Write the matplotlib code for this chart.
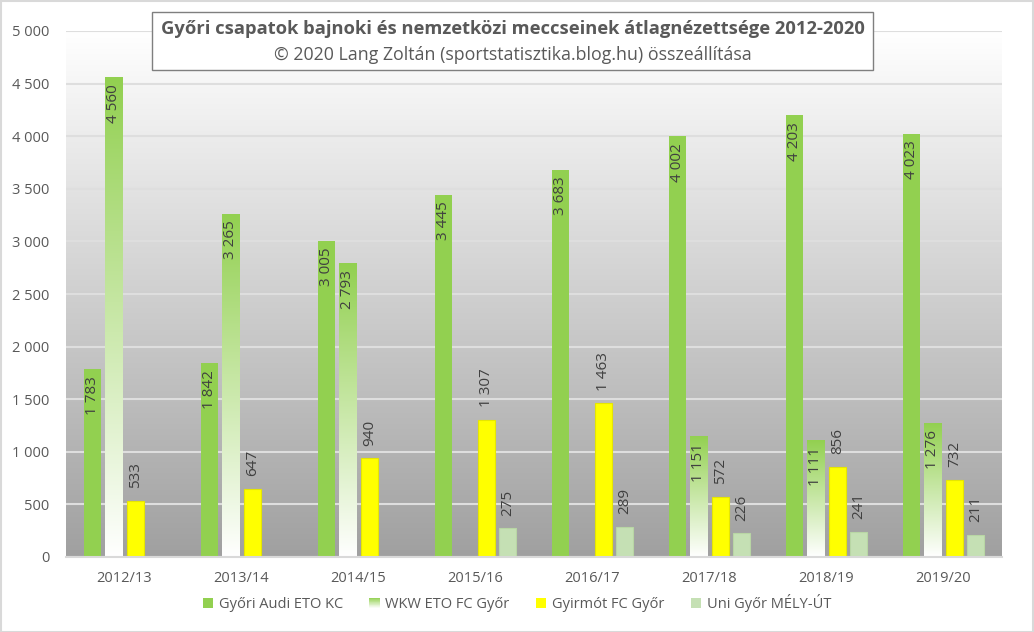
import numpy as np
import matplotlib
matplotlib.use('Agg')
import matplotlib.pyplot as plt
from matplotlib.patches import Rectangle
from matplotlib.colors import to_rgb
from matplotlib.legend_handler import HandlerBase

# ---------------- data ----------------
seasons = ['2012/13', '2013/14', '2014/15', '2015/16', '2016/17', '2017/18', '2018/19', '2019/20']
eto_kc = [1783, 1842, 3005, 3445, 3683, 4002, 4203, 4023]
wkw_eto = [4560, 3265, 2793, None, None, 1151, 1111, 1276]
gyirmot = [533, 647, 940, 1307, 1463, 572, 856, 732]
uni_gyor = [None, None, None, 275, 289, 226, 241, 211]
series_names = ['Győri Audi ETO KC', 'WKW ETO FC Győr', 'Gyirmót FC Győr', 'Uni Győr MÉLY-ÚT']
yticks = [0, 500, 1000, 1500, 2000, 2500, 3000, 3500, 4000, 4500, 5000]
title = 'Győri csapatok bajnoki és nemzetközi meccseinek átlagnézettsége 2012-2020'
subtitle = '© 2020 Lang Zoltán (sportstatisztika.blog.hu) összeállítása'

# ---------------- style ----------------
FONT = 'Open Sans'
plt.rcParams['font.family'] = [FONT, 'DejaVu Sans']
GREEN = '#92d050'
YELLOW = '#ffff00'
LIGHTGREEN = '#c5e0b4'
TXT = '#595959'
LBL = '#404040'

W, H = 1034, 632
fig = plt.figure(figsize=(W / 100, H / 100), dpi=100)
fig.patch.set_facecolor('white')
ax = fig.add_axes([66 / W, 1 - 557 / H, (1002 - 66) / W, (557 - 31) / H])
ax.patch.set_alpha(0)

def fmt(v):
    return f'{v:,}'.replace(',', ' ')

x = np.arange(len(seasons))
step = 0.184
bw = 0.146
offs = [-1.5 * step, -0.5 * step, 0.5 * step, 1.5 * step]

def vals(a):
    return np.array([np.nan if v is None else v for v in a], dtype=float)

# background gradient (white top -> gray bottom)
g = np.linspace(1.0, 0.0, 256).reshape(-1, 1)
top = np.array([1.0, 1.0, 1.0]); bot = np.array(to_rgb('#a0a0a0'))
bg = top * g[..., None] + bot * (1 - g[..., None])
ax.imshow(bg, extent=[0, 1, 0, 1], transform=ax.transAxes, aspect='auto', zorder=0,
          interpolation='bilinear')

# bars
b1 = ax.bar(x + offs[0], vals(eto_kc), bw, color=GREEN, zorder=2)
b2 = ax.bar(x + offs[1], vals(wkw_eto), bw, color='none', edgecolor='none', zorder=2)
b3 = ax.bar(x + offs[2], vals(gyirmot), bw, color=YELLOW, edgecolor='#e6e600', linewidth=0.8, zorder=2)
b4 = ax.bar(x + offs[3], vals(uni_gyor), bw, color=LIGHTGREEN, edgecolor='#b8d6a4', linewidth=0.8, zorder=2)

# gradient fill for WKW bars
gc = np.array(to_rgb(GREEN)); wc = np.array([1.0, 1.0, 1.0])
gg = np.linspace(1.0, 0.0, 256).reshape(-1, 1)
grad = gc * gg[..., None] + wc * (1 - gg[..., None])
for r in b2:
    h = r.get_height()
    if not np.isfinite(h):
        continue
    x0 = r.get_x()
    im = ax.imshow(grad, extent=[x0, x0 + r.get_width(), 0, h], aspect='auto',
                   zorder=2.1, interpolation='bilinear')
    im.set_clip_path(r)

# labels
for bars, data, inside in [(b1, eto_kc, True), (b2, wkw_eto, True), (b3, gyirmot, False), (b4, uni_gyor, False)]:
    for r, v in zip(bars, data):
        if v is None:
            continue
        cx = r.get_x() + r.get_width() / 2
        if inside:
            ax.annotate(fmt(v), (cx, v), xytext=(0, -5), textcoords='offset points',
                        rotation=90, ha='center', va='top', fontsize=11, color=LBL, zorder=5)
        else:
            ax.annotate(fmt(v), (cx, v), xytext=(0, 9), textcoords='offset points',
                        rotation=90, ha='center', va='bottom', fontsize=11, color=LBL, zorder=5)

ax.set_xlim(-0.5, len(seasons) - 0.5)
ax.set_ylim(0, 5000)
ax.set_yticks(yticks)
ax.set_yticklabels([fmt(v) for v in yticks])
ax.set_xticks(x)
ax.set_xticklabels(seasons)
ax.tick_params(axis='both', length=0, colors=TXT, labelsize=10.5)
ax.tick_params(axis='y', pad=12)
ax.tick_params(axis='x', pad=10)
ax.yaxis.grid(True, color='#dedede', linewidth=1.5, zorder=1)
ax.set_axisbelow(True)
for s in ['top', 'right', 'left']:
    ax.spines[s].set_visible(False)
ax.spines['bottom'].set_color('#d9d9d9')
ax.spines['bottom'].set_linewidth(1.5)
ax.spines['bottom'].set_zorder(3)

# legend
class GradHandler(HandlerBase):
    def create_artists(self, legend, orig_handle, xdescent, ydescent, width, height, fontsize, trans):
        arts = []
        n = 24
        for i in range(n):
            f = (i + 0.5) / n
            c = wc * (1 - f) + gc * f
            arts.append(Rectangle((-xdescent, -ydescent + height * i / n), width, height / n * 1.05,
                                  facecolor=c, edgecolor='none', transform=trans))
        return arts

h1 = Rectangle((0, 0), 1, 1, facecolor=GREEN)
h2 = Rectangle((0, 0), 1, 1, facecolor=GREEN)
h3 = Rectangle((0, 0), 1, 1, facecolor=YELLOW)
h4 = Rectangle((0, 0), 1, 1, facecolor=LIGHTGREEN)
leg = fig.legend([h1, h2, h3, h4], series_names, loc='center', bbox_to_anchor=(0.5, 1 - 603 / H),
                 ncol=4, frameon=False, fontsize=10.5, handlelength=0.7, handleheight=0.7,
                 handletextpad=0.4, columnspacing=1.8, handler_map={h2: GradHandler()})
for t in leg.get_texts():
    t.set_color(TXT)

# title box
fig.add_artist(Rectangle((152 / W, 1 - 70 / H), (873 - 152) / W, 58 / H, transform=fig.transFigure,
                         facecolor='white', edgecolor='#7f7f7f', linewidth=1, zorder=5))
fig.text(512.5 / W, 1 - 29 / H, title, ha='center', va='center', fontsize=13.2, fontweight='bold',
         color=TXT, zorder=6)
fig.text(512.5 / W, 1 - 55 / H, subtitle, ha='center', va='center', fontsize=12.8, color=TXT, zorder=6)

# outer border
fig.add_artist(Rectangle((0.5 / W, 0.5 / H), 1 - 1.5 / W, 1 - 1.5 / H, transform=fig.transFigure,
                         facecolor='none', edgecolor='#d9d9d9', linewidth=1.5, zorder=7))

fig.savefig('out.png', dpi=100)
